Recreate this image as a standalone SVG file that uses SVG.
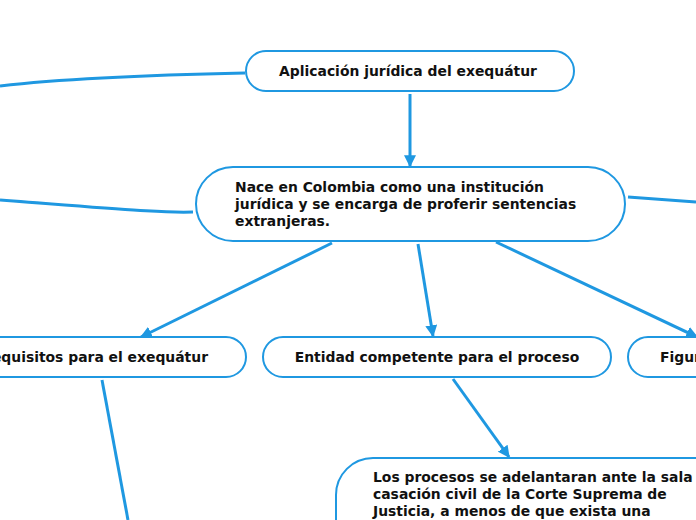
<svg xmlns="http://www.w3.org/2000/svg" width="696" height="520" viewBox="0 0 696 520">
<defs>
<marker id="ah" viewBox="0 0 10 10" refX="9" refY="5" markerWidth="4" markerHeight="4" orient="auto" markerUnits="strokeWidth">
<path d="M0,0 L10,5 L0,10 z" fill="#1f98e1"/>
</marker>
<style>
.n{fill:#fff;stroke:#1f98e1;stroke-width:2}
.c{fill:none;stroke:#1f98e1;stroke-width:3;stroke-linecap:butt}
.t{font-family:"DejaVu Sans",Verdana,sans-serif;font-weight:bold;font-size:13.9px;fill:#111}
</style>
</defs>
<rect width="696" height="520" fill="#fff"/>
<g id="connectors">
<path class="c" d="M245,73 C150,75 60,79 0,86"/>
<path class="c" d="M410,94 L410,166" marker-end="url(#ah)"/>
<path class="c" d="M193,212 C160,213 120,209 0,200"/>
<path class="c" d="M628,197 L696,202"/>
<path class="c" d="M332,243 L141,337" marker-end="url(#ah)"/>
<path class="c" d="M418,244 L433,336" marker-end="url(#ah)"/>
<path class="c" d="M496,242 L697,337" marker-end="url(#ah)"/>
<path class="c" d="M102,380 L128,520"/>
<path class="c" d="M453,379 L509,457" marker-end="url(#ah)"/>
</g>
<g id="n1">
<rect class="n" x="246" y="51" width="328" height="40" rx="20"/>
<text class="t" x="408" y="76" text-anchor="middle">Aplicación jurídica del exequátur</text>
</g>
<g id="n2">
<rect class="n" x="196" y="167" width="429" height="74" rx="37"/>
<text class="t" x="235" y="192">Nace en Colombia como una institución</text>
<text class="t" x="235" y="209">jurídica y se encarga de proferir sentencias</text>
<text class="t" x="235" y="226">extranjeras.</text>
</g>
<g id="n3">
<rect class="n" x="-60" y="337" width="306" height="40" rx="20"/>
<text class="t" x="208" y="362" text-anchor="end">Requisitos para el exequátur</text>
</g>
<g id="n4">
<rect class="n" x="263" y="337" width="348" height="40" rx="20"/>
<text class="t" x="437" y="362" text-anchor="middle">Entidad competente para el proceso</text>
</g>
<g id="n5">
<rect class="n" x="628" y="337" width="200" height="40" rx="20"/>
<text class="t" x="660" y="362">Figura</text>
</g>
<g id="n6">
<rect class="n" x="336" y="458" width="420" height="120" rx="37"/>
<text class="t" x="373" y="482">Los procesos se adelantaran ante la sala</text>
<text class="t" x="373" y="499">casación civil de la Corte Suprema de</text>
<text class="t" x="373" y="516">Justicia, a menos de que exista una</text>
</g>
</svg>
